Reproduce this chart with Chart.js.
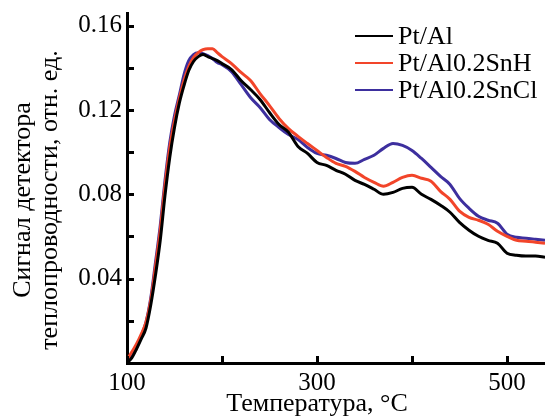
<!DOCTYPE html>
<html>
<head>
<meta charset="utf-8">
<script src="https://cdn.jsdelivr.net/npm/chart.js@4/dist/chart.umd.min.js"></script>
<style>
html,body{margin:0;padding:0;background:#fff;}
#wrap{width:545px;height:419px;}
</style>
</head>
<body>
<div id="wrap"><canvas id="c" width="545" height="419"></canvas></div>
<script>
// Temperature, °C
const temperatures = [100,105,110,115,120,125,130,135,140,145,150,155,160,165,170,175,180,185,190,195,200,
  210,220,230,240,250,260,270,280,290,300,310,320,330,340,350,360,370,380,390,400,410,420,430,440,450,460,470,480,490,500,510,520,530,540];

const seriesLabels = ['Pt/Al', 'Pt/Al0.2SnH', 'Pt/Al0.2SnCl'];

const ptAl = [0.0000,0.0024,0.0066,0.0114,0.0166,0.0275,0.0417,0.0582,0.0795,0.0975,0.1117,0.1231,0.1316,0.1387,0.1430,0.1453,0.1463,0.1453,0.1444,0.1434,0.1420,
  0.1392,0.1340,0.1297,0.1250,0.1188,0.1131,0.1094,0.1027,0.0994,0.0951,0.0937,0.0914,
  0.0895,0.0866,0.0847,0.0824,0.0800,0.0809,0.0828,0.0833,0.0800,0.0776,0.0748,0.0715,0.0667,0.0630,0.0601,0.0582,0.0568,0.0521,0.0511,0.0507,0.0507,0.0502];

const ptAlSnH = [0.0014,0.0052,0.0090,0.0137,0.0194,0.0298,0.0459,0.0630,0.0843,0.1022,0.1150,0.1254,0.1340,0.1406,0.1449,0.1472,0.1486,0.1491,0.1491,0.1472,0.1453,
  0.1420,0.1378,0.1340,0.1278,0.1221,0.1160,0.1112,0.1075,0.1041,0.1008,0.0975,0.0947,
  0.0933,0.0909,0.0880,0.0857,0.0838,0.0857,0.0880,0.0890,0.0876,0.0862,0.0814,0.0776,0.0720,0.0691,0.0677,0.0658,0.0625,0.0601,0.0582,0.0578,0.0573,0.0568];

const ptAlSnCl = [0.0005,0.0038,0.0080,0.0128,0.0194,0.0308,0.0478,0.0653,0.0866,0.1046,0.1174,0.1269,0.1368,0.1434,0.1463,0.1472,0.1467,0.1458,0.1444,0.1425,0.1415,
  0.1382,0.1321,0.1259,0.1212,0.1155,0.1117,0.1084,0.1060,0.1022,0.0994,
  0.0985,0.0970,0.0951,0.0947,0.0966,0.0985,0.1018,0.1041,0.1032,0.1008,0.0970,0.0928,0.0885,0.0847,0.0781,0.0734,0.0696,0.0677,0.0663,0.0611,0.0596,0.0592,0.0587,0.0582];

const seriesColors = ['#000000', '#f2452a', '#3d2f9e'];

const xTickValues = [100, 200, 300, 400, 500];
const xTickLabels = ['100', '', '300', '', '500'];
const yTickValues = [0, 0.02, 0.04, 0.06, 0.08, 0.10, 0.12, 0.14, 0.16];
const yTickLabels = ['', '', '0.04', '', '0.08', '', '0.12', '', '0.16'];

const xTitle = 'Температура, °С';
const yTitle = ['Сигнал детектора', 'теплопроводности, отн. ед.'];

const FONT = '"Liberation Serif", "Times New Roman", serif';

function toPoints(values) {
  return temperatures.map((t, i) => ({ x: t, y: values[i] }));
}

const inwardTicks = {
  id: 'inwardTicks',
  afterDatasetsDraw(chart) {
    const ctx = chart.ctx;
    const xs = chart.scales.x, ys = chart.scales.y;
    const area = chart.chartArea;
    ctx.save();
    ctx.strokeStyle = '#000';
    ctx.lineWidth = 3;
    ctx.beginPath();
    xTickValues.forEach(v => {
      const px = Math.round(xs.getPixelForValue(v)) + 0.5;
      ctx.moveTo(px, area.bottom);
      ctx.lineTo(px, area.bottom - 7);
    });
    yTickValues.forEach(v => {
      const py = Math.round(ys.getPixelForValue(v)) + 0.5;
      ctx.moveTo(area.left, py);
      ctx.lineTo(area.left + 7, py);
    });
    ctx.stroke();
    ctx.restore();
  }
};

const axisTitles = {
  id: 'axisTitles',
  afterDraw(chart) {
    const ctx = chart.ctx;
    const xs = chart.scales.x;
    ctx.save();
    ctx.fillStyle = '#000';
    ctx.font = '26px ' + FONT;
    ctx.textAlign = 'center';
    ctx.textBaseline = 'middle';
    ctx.fillText(xTitle, xs.getPixelForValue(300), 404);
    ctx.translate(0, 200);
    ctx.rotate(-Math.PI / 2);
    ctx.fillText(yTitle[0], 0, 23);
    ctx.fillText(yTitle[1], 0, 50);
    ctx.restore();
  }
};

const inlineLegend = {
  id: 'inlineLegend',
  afterDraw(chart) {
    const ctx = chart.ctx;
    ctx.save();
    ctx.font = '26px ' + FONT;
    ctx.textBaseline = 'middle';
    ctx.textAlign = 'left';
    chart.data.datasets.forEach((ds, i) => {
      const y = 36 + i * 27;
      ctx.strokeStyle = ds.borderColor;
      ctx.lineWidth = 2;
      ctx.beginPath();
      ctx.moveTo(355, y);
      ctx.lineTo(393, y);
      ctx.stroke();
      ctx.fillStyle = '#000';
      ctx.fillText(ds.label, 398, y + 1);
    });
    ctx.restore();
  }
};

new Chart(document.getElementById('c'), {
  type: 'line',
  data: {
    datasets: [
      { label: seriesLabels[0], data: toPoints(ptAl), borderColor: seriesColors[0] },
      { label: seriesLabels[1], data: toPoints(ptAlSnH), borderColor: seriesColors[1] },
      { label: seriesLabels[2], data: toPoints(ptAlSnCl), borderColor: seriesColors[2] }
    ]
  },
  options: {
    responsive: false,
    animation: false,
    devicePixelRatio: 1,
    layout: { padding: { top: 13, right: 0, left: 0, bottom: 0 } },
    elements: {
      point: { radius: 0 },
      line: { borderWidth: 3, cubicInterpolationMode: 'monotone', fill: false }
    },
    plugins: {
      legend: { display: false },
      tooltip: { enabled: false }
    },
    scales: {
      x: {
        type: 'linear',
        min: 100,
        max: 540,
        grid: { display: false, drawTicks: false },
        border: { display: true, color: '#000', width: 3 },
        afterBuildTicks(scale) { scale.ticks = xTickValues.map(v => ({ value: v })); },
        afterFit(scale) {
          scale.height = 56;
          scale.paddingLeft = 0; scale.paddingRight = 0;
          scale.paddingTop = 0; scale.paddingBottom = 0;
        },
        ticks: {
          autoSkip: false,
          maxRotation: 0,
          padding: 5,
          color: '#000',
          font: { family: FONT, size: 25 },
          callback(v) { const i = xTickValues.indexOf(v); return i >= 0 ? xTickLabels[i] : ''; }
        },
        title: { display: false }
      },
      y: {
        type: 'linear',
        min: 0,
        max: 0.166,
        grid: { display: false, drawTicks: false },
        border: { display: true, color: '#000', width: 3 },
        afterBuildTicks(scale) { scale.ticks = yTickValues.map(v => ({ value: v })); },
        afterFit(scale) {
          scale.width = 127;
          scale.paddingTop = 0; scale.paddingBottom = 0;
          scale.paddingLeft = 0; scale.paddingRight = 0;
        },
        ticks: {
          autoSkip: false,
          padding: 5,
          color: '#000',
          font: { family: FONT, size: 25 },
          callback(v) {
            const i = yTickValues.findIndex(t => Math.abs(t - v) < 1e-9);
            return i >= 0 ? yTickLabels[i] : '';
          }
        },
        title: { display: false }
      }
    }
  },
  plugins: [inwardTicks, axisTitles, inlineLegend]
});
</script>
</body>
</html>
